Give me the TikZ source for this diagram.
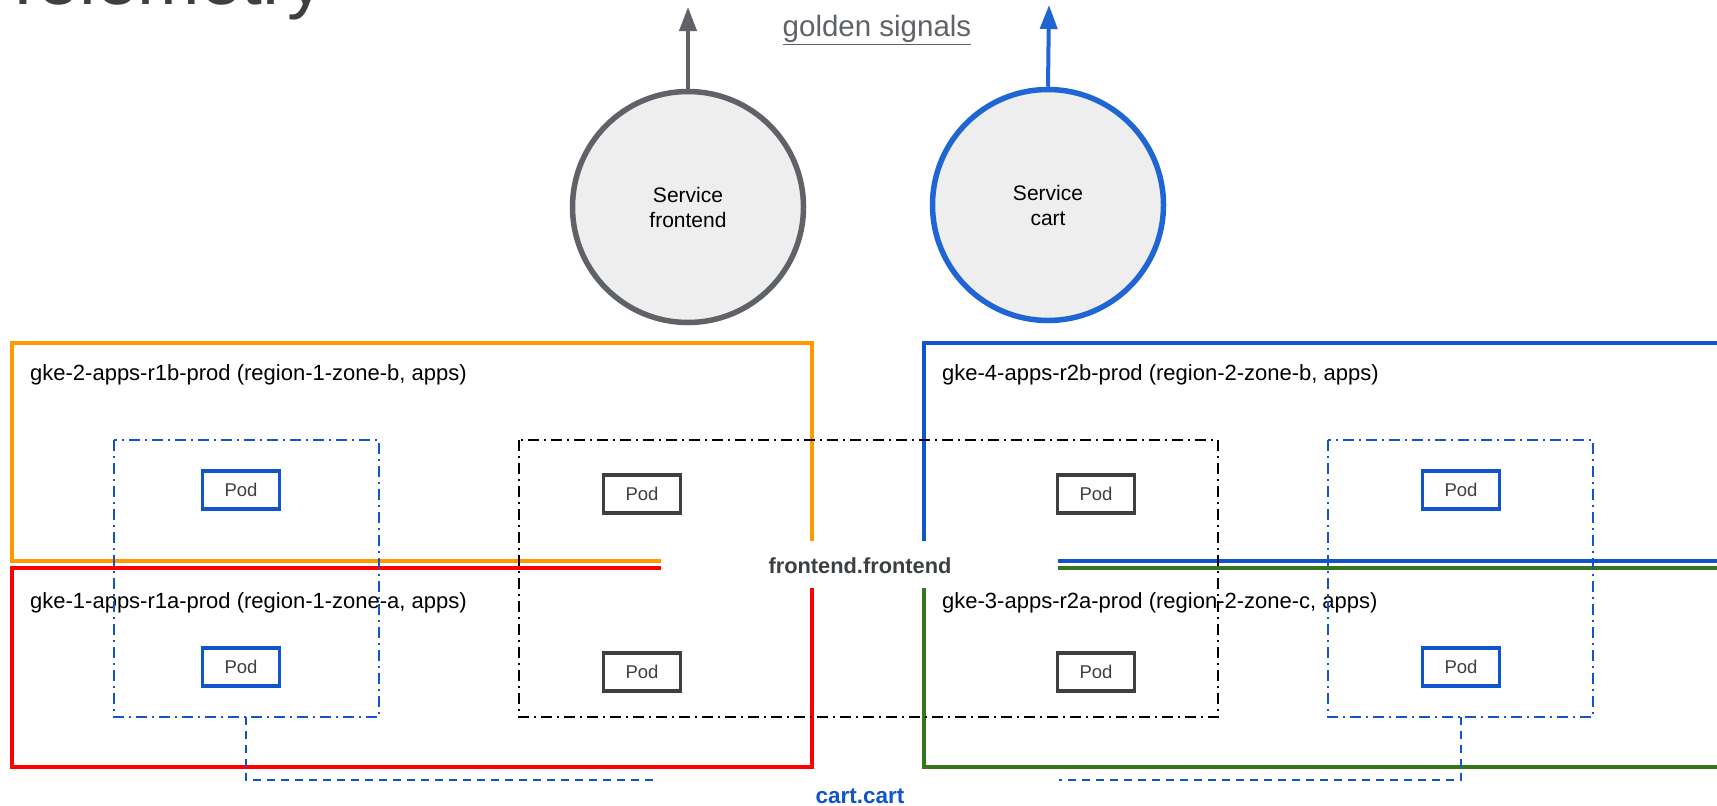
\documentclass[tikz,border=0pt]{standalone}
\usepackage{fontspec}
\setmainfont{Liberation Sans}
\usetikzlibrary{arrows.meta}
\definecolor{gorange}{HTML}{FF9900}
\definecolor{gred}{HTML}{FF0000}
\definecolor{gblue}{HTML}{1155CC}
\definecolor{cblue}{HTML}{1F66D4}
\definecolor{ggreen}{HTML}{38761D}
\definecolor{ggray}{HTML}{5F6368}
\definecolor{dgray}{HTML}{3C4043}
\definecolor{lgray}{HTML}{EEEEEE}
\begin{document}
\begin{tikzpicture}[x=1pt, y=-1pt,
  svc/.style={circle, draw, line width=5.5pt, fill=lgray, minimum size=231pt, align=center, font=\fontsize{21}{25}\selectfont},
  pod/.style={draw, line width=3.5pt, minimum width=77pt, minimum height=38pt, inner sep=0pt, text=dgray, font=\fontsize{18.5}{20}\selectfont},
  clab/.style={anchor=west, inner sep=0pt, font=\fontsize{22}{24}\selectfont},
  clus/.style={line width=4.5pt},
  grp/.style={line width=1.6pt, dash pattern=on 11pt off 5pt on 2pt off 5pt},
  sig/.style={line width=4pt, -{Triangle[length=24pt, width=17pt]}}]
\useasboundingbox (0,0) rectangle (1717,806);
\clip (0,0) rectangle (1717,806);
% title, cut at the top
\node[anchor=base west, inner sep=0pt, text=dgray, font=\fontsize{75}{80}\selectfont] (title) at (0,4) {Telemetry};
\node[text=ggray, font=\fontsize{29.5}{32}\selectfont] (gs) at (877,30) {\underline{golden signals}};
% services
\node[svc, draw=ggray] (sfe) at (688,207) {Service\\frontend};
\node[svc, draw=cblue] (scart) at (1048,205) {Service\\cart};
\coordinate (sfeup) at (688,7);
\coordinate (scartup) at (1049,5);
\draw[sig, ggray] (sfe.north) -- (sfeup);
\draw[sig, cblue] (scart.north) -- (scartup);
% clusters
\coordinate (o1) at (661,561); \coordinate (o2) at (12,343); \coordinate (o3) at (812,541);
\draw[clus, gorange] (o1) -| (o2) -| (o3);
\coordinate (r1) at (661,568); \coordinate (r2) at (12,767); \coordinate (r3) at (812,588);
\draw[clus, gred] (r1) -| (r2) -| (r3);
\coordinate (b1) at (1740,561); \coordinate (b2) at (1058,561); \coordinate (b3) at (924,541); \coordinate (b4) at (1740,343);
\draw[clus, gblue] (b1) -- (b2);
\draw[clus, gblue] (b3) |- (b4);
\coordinate (g1) at (1740,568); \coordinate (g2) at (1058,568); \coordinate (g3) at (924,588); \coordinate (g4) at (1740,767);
\draw[clus, ggreen] (g1) -- (g2);
\draw[clus, ggreen] (g3) |- (g4);
\node[clab] (l2) at (30,375) {gke-2-apps-r1b-prod (region-1-zone-b, apps)};
\node[clab] (l1) at (30,603) {gke-1-apps-r1a-prod (region-1-zone-a, apps)};
\node[clab] (l4) at (942,375) {gke-4-apps-r2b-prod (region-2-zone-b, apps)};
\node[clab] (l3) at (942,603) {gke-3-apps-r2a-prod (region-2-zone-c, apps)};
% pod groups
\draw[grp, gblue, line width=1.3pt] (114,440) rectangle (379,717);
\draw[grp, gblue, line width=1.3pt] (1328,440) rectangle (1593,717);
\draw[grp, black] (519,440) rectangle (1218,717);
% pods
\node[pod, draw=gblue] (cp1) at (241,490) {Pod};
\node[pod, draw=gblue] (cp2) at (241,667) {Pod};
\node[pod, draw=gblue] (cp3) at (1461,490) {Pod};
\node[pod, draw=gblue] (cp4) at (1461,667) {Pod};
\node[pod, draw=dgray] (fp1) at (642,494) {Pod};
\node[pod, draw=dgray] (fp2) at (642,672) {Pod};
\node[pod, draw=dgray] (fp3) at (1096,494) {Pod};
\node[pod, draw=dgray] (fp4) at (1096,672) {Pod};
% services labels
\node[text=dgray, font=\bfseries\fontsize{21.8}{24}\selectfont] (fefe) at (860,566) {frontend.frontend};
\node[text=gblue, font=\bfseries\fontsize{22.5}{24}\selectfont] (cc) at (860,796) {cart.cart};
\coordinate (cl) at (246,717); \coordinate (cle) at (655,780);
\coordinate (cr) at (1461,717); \coordinate (cre) at (1059,780);
\draw[gblue, line width=2pt, dash pattern=on 8pt off 6pt] (cl) |- (cle);
\draw[gblue, line width=2pt, dash pattern=on 8pt off 6pt] (cr) |- (cre);
\end{tikzpicture}
\end{document}
